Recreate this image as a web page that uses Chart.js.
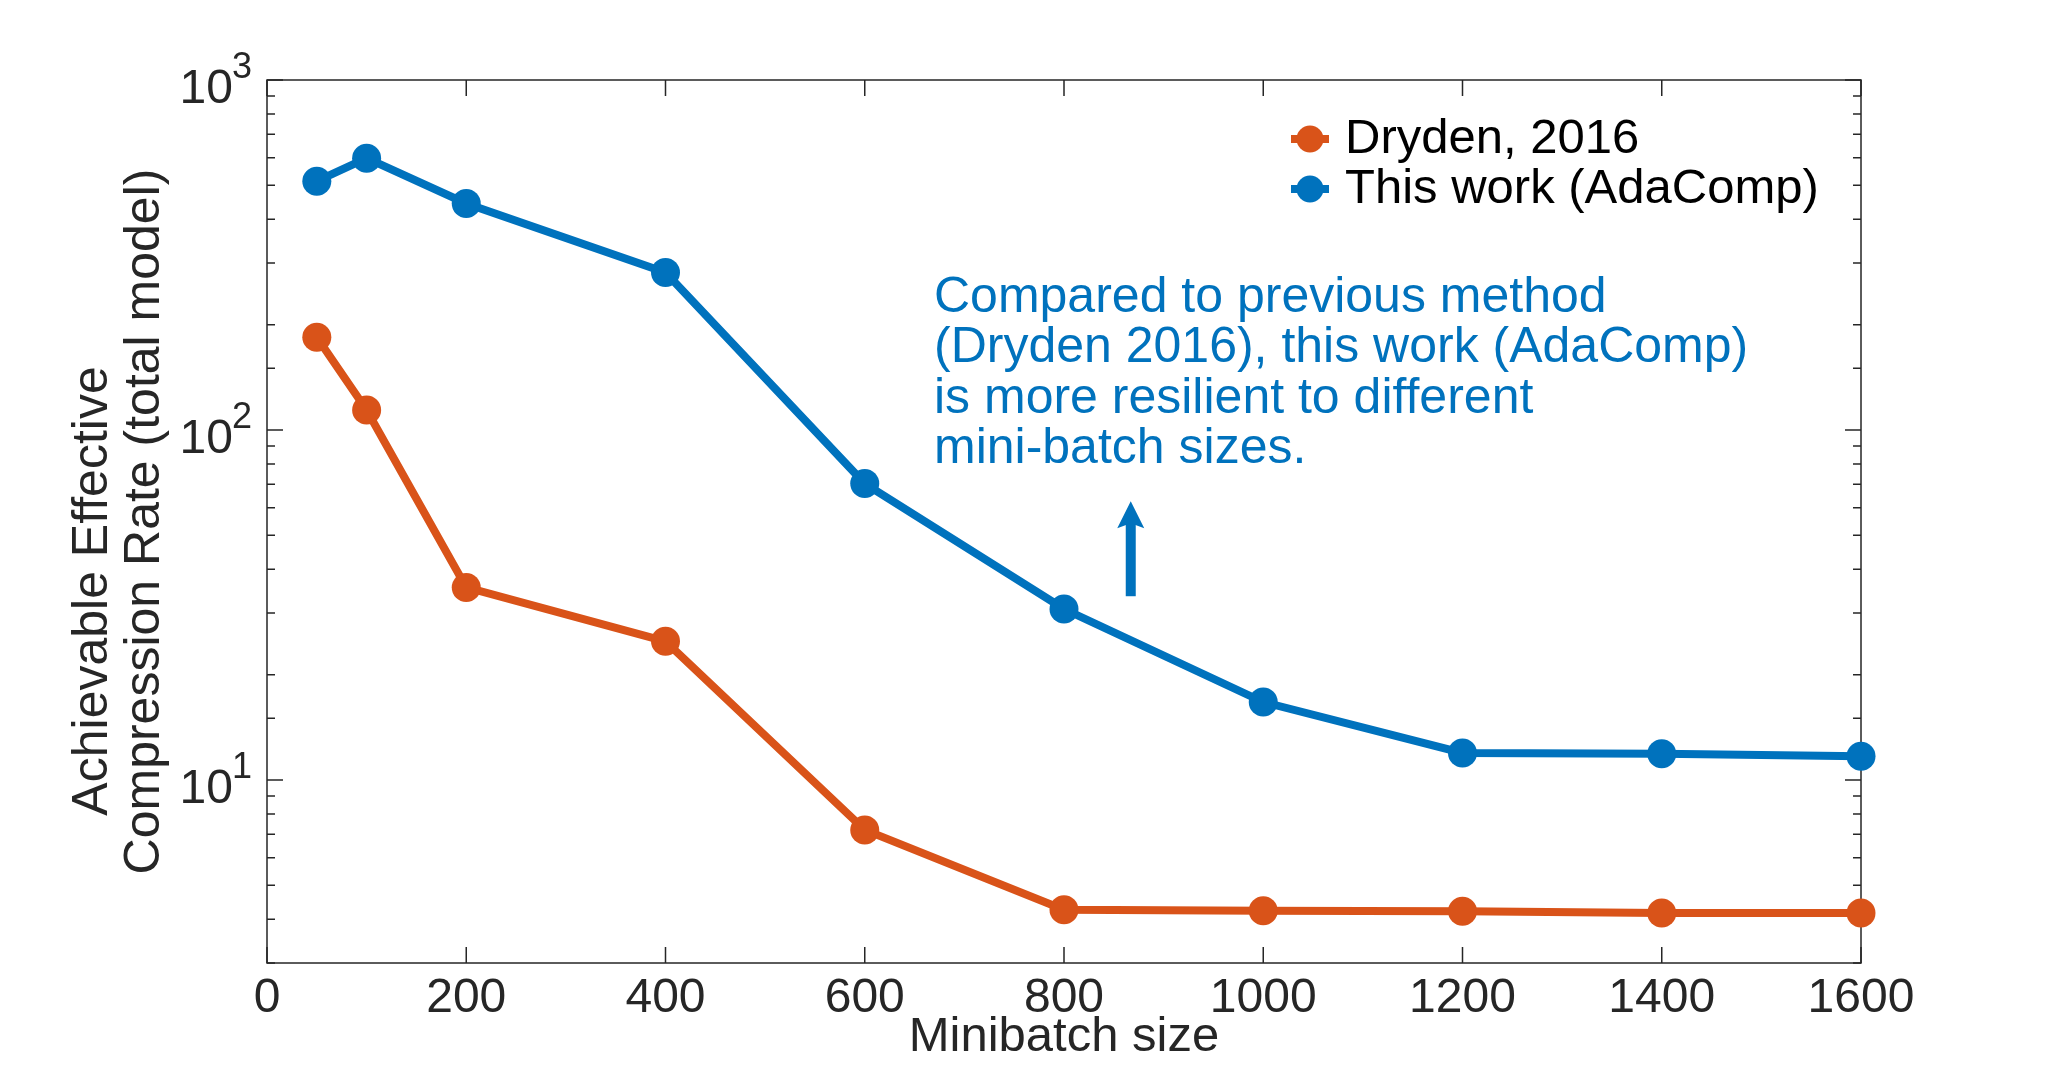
<!DOCTYPE html>
<html>
<head>
<meta charset="utf-8">
<title>Achievable compression rate vs minibatch size</title>
<script src="https://cdn.jsdelivr.net/npm/chart.js@4.4.1/dist/chart.umd.min.js"></script>
<style>
    html, body { margin: 0; padding: 0; background: #fff; }
    #wrap { position: relative; width: 2056px; height: 1082px; }
</style>
</head>
<body>
<div id="wrap"><canvas id="rateChart"></canvas></div>
<script>
// data
const batchSizes = [50, 100, 200, 400, 600, 800, 1000, 1200, 1400, 1600];
const drydenRate = [184, 114, 35.5, 24.9, 7.2, 4.26, 4.23, 4.22, 4.17, 4.17];
const adaCompRate = [514, 598, 444, 282, 70.3, 30.8, 16.7, 11.95, 11.88, 11.69];
const seriesNames = ['Dryden, 2016', 'This work (AdaComp)'];

const xTicks = [0, 200, 400, 600, 800, 1000, 1200, 1400, 1600];
const yMajorTicks = [10, 100, 1000];
const yTickExponents = ['1', '2', '3'];

const noteLines = [
    'Compared to previous method',
    '(Dryden 2016), this work (AdaComp)',
    'is more resilient to different',
    'mini-batch sizes.'
];

// annotation anchors in data units
const noteAnchor = { x: 669.5, y: 218 };
const arrowFrom = { x: 867, y: 33.5 };
const arrowTo = { x: 867, y: 62.6 };

const BLUE = '#0072BD';
const ORANGE = '#D95319';
const AXIS = '#262626';
const FONT = '"Liberation Sans", Arial, Helvetica, sans-serif';

const isDecade = v => Math.abs(Math.log10(v) - Math.round(Math.log10(v))) < 1e-9;

// MATLAB style box with inward ticks on all four sides
const frameAndTicks = {
    id: 'frameAndTicks',
    beforeDatasetsDraw(chart) {
        const { ctx, chartArea: a, scales: { x, y } } = chart;
        ctx.save();
        ctx.strokeStyle = AXIS;
        ctx.lineWidth = 1.5;
        ctx.strokeRect(a.left, a.top, a.right - a.left, a.bottom - a.top);
        ctx.beginPath();
        x.ticks.forEach(t => {
            const px = x.getPixelForValue(t.value);
            ctx.moveTo(px, a.bottom); ctx.lineTo(px, a.bottom - 16);
            ctx.moveTo(px, a.top); ctx.lineTo(px, a.top + 16);
        });
        y.ticks.forEach(t => {
            const py = y.getPixelForValue(t.value);
            const len = isDecade(t.value) ? 16 : 8;
            ctx.moveTo(a.left, py); ctx.lineTo(a.left + len, py);
            ctx.moveTo(a.right, py); ctx.lineTo(a.right - len, py);
        });
        ctx.stroke();

        // y labels as 10 with a raised exponent
        ctx.fillStyle = AXIS;
        ctx.textBaseline = 'alphabetic';
        yMajorTicks.forEach((v, i) => {
            const py = y.getPixelForValue(v);
            ctx.font = '48px ' + FONT;
            ctx.textAlign = 'right';
            ctx.fillText('10', a.left - 34, py + 23);
            ctx.font = '36px ' + FONT;
            ctx.textAlign = 'left';
            ctx.fillText(yTickExponents[i], a.left - 35, py - 2);
        });
        ctx.restore();
    }
};

const notesAndLegend = {
    id: 'notesAndLegend',
    afterDraw(chart) {
        const { ctx, chartArea: a, scales: { x, y } } = chart;
        ctx.save();

        // annotation text
        ctx.fillStyle = BLUE;
        ctx.font = '50px ' + FONT;
        ctx.textAlign = 'left';
        ctx.textBaseline = 'alphabetic';
        const tx = x.getPixelForValue(noteAnchor.x);
        const ty = y.getPixelForValue(noteAnchor.y);
        noteLines.forEach((line, i) => ctx.fillText(line, tx, ty + i * 50.5));

        // arrow
        const ax = x.getPixelForValue(arrowFrom.x);
        const ay0 = y.getPixelForValue(arrowFrom.y);
        const ay1 = y.getPixelForValue(arrowTo.y);
        ctx.strokeStyle = BLUE;
        ctx.lineWidth = 10;
        ctx.lineCap = 'butt';
        ctx.beginPath();
        ctx.moveTo(ax, ay0);
        ctx.lineTo(ax, ay1 + 20);
        ctx.stroke();
        ctx.beginPath();
        ctx.moveTo(ax, ay1);
        ctx.lineTo(ax + 13.5, ay1 + 27);
        ctx.lineTo(ax, ay1 + 22);
        ctx.lineTo(ax - 13.5, ay1 + 27);
        ctx.closePath();
        ctx.fill();

        // legend
        chart.data.datasets.forEach((ds, i) => {
            const cx = a.right - 551;
            const cy = a.top + 59 + i * 50;
            ctx.strokeStyle = ds.borderColor;
            ctx.lineWidth = 8;
            ctx.beginPath();
            ctx.moveTo(cx - 19, cy);
            ctx.lineTo(cx + 19, cy);
            ctx.stroke();
            ctx.fillStyle = ds.backgroundColor;
            ctx.beginPath();
            ctx.arc(cx, cy, 13.5, 0, Math.PI * 2);
            ctx.fill();
            ctx.fillStyle = '#000';
            ctx.font = '49px ' + FONT;
            ctx.fillText(ds.label, cx + 35, cy + 14);
        });
        ctx.restore();
    }
};

const toPoints = vals => batchSizes.map((b, i) => ({ x: b, y: vals[i] }));

const ctx = document.getElementById('rateChart').getContext('2d');
new Chart(ctx, {
    type: 'line',
    data: {
        datasets: [{
            label: seriesNames[0],
            data: toPoints(drydenRate),
            borderColor: ORANGE,
            backgroundColor: ORANGE,
            borderWidth: 8,
            pointRadius: 14.5,
            pointBorderWidth: 0,
            pointBackgroundColor: ORANGE,
            tension: 0,
            clip: false
        }, {
            label: seriesNames[1],
            data: toPoints(adaCompRate),
            borderColor: BLUE,
            backgroundColor: BLUE,
            borderWidth: 8,
            pointRadius: 14.5,
            pointBorderWidth: 0,
            pointBackgroundColor: BLUE,
            tension: 0,
            clip: false
        }]
    },
    options: {
        responsive: true,
        maintainAspectRatio: false,
        animation: false,
        events: [],
        layout: { padding: { top: 80, right: 195, bottom: 0, left: 0 } },
        plugins: {
            legend: { display: false },
            tooltip: { enabled: false }
        },
        scales: {
            x: {
                type: 'linear',
                min: 0,
                max: 1600,
                afterBuildTicks: s => { s.ticks = xTicks.map(v => ({ value: v })); },
                afterFit: s => { s.height = 119; },
                grid: { display: false, drawTicks: false },
                border: { display: false },
                ticks: {
                    color: AXIS,
                    padding: 7,
                    maxRotation: 0,
                    font: { family: FONT, size: 48 },
                    callback: v => String(v)
                },
                title: {
                    display: true,
                    text: 'Minibatch size',
                    color: AXIS,
                    font: { family: FONT, size: 49, lineHeight: 1.2 },
                    padding: { top: 0, bottom: 15 }
                }
            },
            y: {
                type: 'logarithmic',
                min: 3,
                max: 1000,
                afterFit: s => { s.width = 267; },
                grid: { display: false, drawTicks: false },
                border: { display: false },
                ticks: { display: false },
                title: {
                    display: true,
                    // first line carries trailing blanks, as in the original figure
                    text: ['Achievable Effective          ', 'Compression Rate (total model)'],
                    color: AXIS,
                    font: { family: FONT, size: 50, lineHeight: 1.052 },
                    padding: { top: 66.5, bottom: 0 }
                }
            }
        }
    },
    plugins: [frameAndTicks, notesAndLegend]
});
</script>
</body>
</html>
